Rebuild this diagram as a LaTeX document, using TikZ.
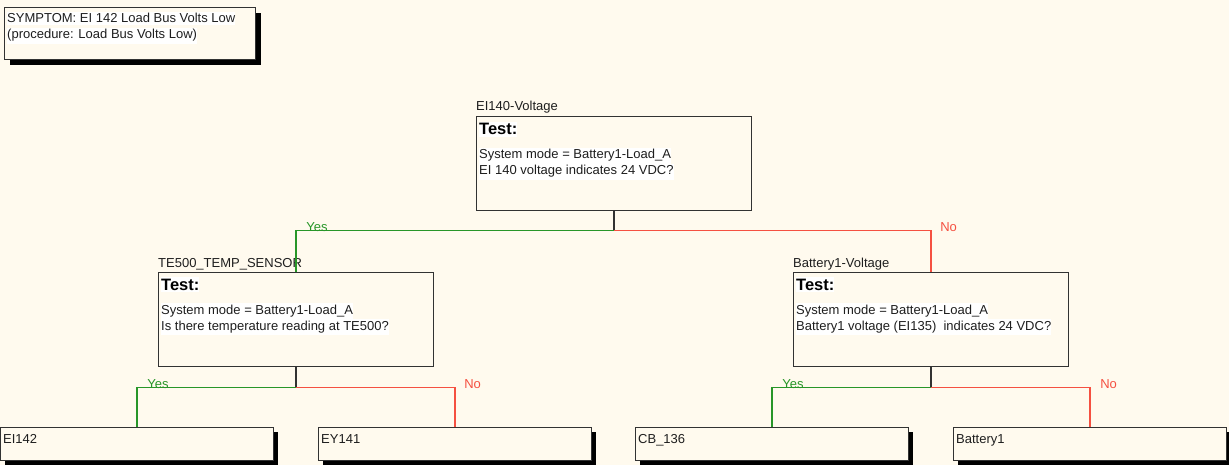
\documentclass[tikz,border=0pt]{standalone}
\usepackage{fontspec}
\setmainfont{Liberation Sans}
\usetikzlibrary{shadows,calc}
\definecolor{paper}{RGB}{255,250,238}
\definecolor{frame}{RGB}{50,50,50}
\definecolor{yesc}{RGB}{40,150,40}
\definecolor{noc}{RGB}{245,80,65}
\definecolor{ink}{RGB}{30,30,30}
\tikzset{
  testbox/.style={draw=frame, line width=1.2pt, fill=paper, anchor=north west,
    minimum width=275pt, minimum height=94pt, inner sep=0pt},
  leafbox/.style={draw=frame, line width=1.2pt, fill=paper, anchor=north west,
    minimum width=273pt, minimum height=33pt, inner sep=0pt,
    drop shadow={shadow xshift=4pt, shadow yshift=-4pt, fill=black, opacity=1}},
  notebox/.style={draw=frame, line width=1.2pt, fill=paper, anchor=north west,
    minimum width=251pt, minimum height=52pt, inner sep=0pt,
    drop shadow={shadow xshift=5pt, shadow yshift=-5pt, fill=black, opacity=1}},
  txt/.style={anchor=base west, inner sep=0pt, font=\fontsize{13}{15}\selectfont, text=ink},
  hl/.style={txt, fill=white, inner ysep=2pt},
  head/.style={anchor=base west, inner sep=0pt, fill=white, inner ysep=2pt,
    font=\fontsize{16.5}{18}\selectfont\bfseries, text=black},
  stem/.style={draw=frame, line width=1.3pt},
  yesline/.style={draw=yesc, line width=1.3pt},
  noline/.style={draw=noc, line width=1.3pt},
  yeslab/.style={txt, text=yesc},
  nolab/.style={txt, text=noc},
}
\begin{document}
\begin{tikzpicture}[x=1pt,y=-1pt]
\fill[paper] (0,0) rectangle (1229,465);
\useasboundingbox (0,0) rectangle (1229,465);

% symptom note
\node[notebox] (sym) at (4,7) {};
\node[hl] (s1) at ($(sym.north west)+(3,16)$) {SYMPTOM: EI 142 Load Bus Volts Low};
\node[hl] (s2) at ($(sym.north west)+(3,32)$) {(procedure: Load Bus Volts Low)};

% test boxes
\node[testbox] (q1) at (476,116) {};
\node[testbox] (q2) at (158,272) {};
\node[testbox] (q3) at (793,272) {};

\node[txt] (q1n) at ($(q1.north west)+(0,-5)$) {EI140-Voltage};
\node[head] (q1h) at ($(q1.north west)+(3,19)$) {Test:};
\node[hl] (q1a) at ($(q1.north west)+(3,43)$) {System mode = Battery1-Load\_A};
\node[hl] (q1b) at ($(q1.north west)+(3,59)$) {EI 140 voltage indicates 24 VDC?};

\node[txt] (q2n) at ($(q2.north west)+(0,-5)$) {TE500\_TEMP\_SENSOR};
\node[head] (q2h) at ($(q2.north west)+(3,18)$) {Test:};
\node[hl] (q2a) at ($(q2.north west)+(3,42)$) {System mode = Battery1-Load\_A};
\node[hl] (q2b) at ($(q2.north west)+(3,58)$) {Is there temperature reading at TE500?};

\node[txt] (q3n) at ($(q3.north west)+(0,-5)$) {Battery1-Voltage};
\node[head] (q3h) at ($(q3.north west)+(3,18)$) {Test:};
\node[hl] (q3a) at ($(q3.north west)+(3,42)$) {System mode = Battery1-Load\_A};
\node[hl] (q3b) at ($(q3.north west)+(3,58)$) {Battery1 voltage (EI135)\ \ indicates 24 VDC?};

% outcome boxes
\node[leafbox] (l1) at (0,427) {};
\node[leafbox] (l2) at (318,427) {};
\node[leafbox] (l3) at (635,427) {};
\node[leafbox] (l4) at (953,427) {};
\node[txt] (l1t) at ($(l1.north west)+(3,16)$) {EI142};
\node[txt] (l2t) at ($(l2.north west)+(3,16)$) {EY141};
\node[txt] (l3t) at ($(l3.north west)+(3,16)$) {CB\_136};
\node[txt] (l4t) at ($(l4.north west)+(3,16)$) {Battery1};

% branches
\draw[stem] (q1.south) -- ++(0,19) coordinate (j1);
\draw[yesline] (j1) -| (q2.north);
\draw[noline] (j1) -| (q3.north);
\node[yeslab] (y1) at ($(j1 -| q2.north)+(10,1)$) {Yes};
\node[nolab] (n1) at ($(j1 -| q3.north)+(9,1)$) {No};

\draw[stem] (q2.south) -- ++(0,20) coordinate (j2);
\draw[yesline] (j2) -| (l1.north);
\draw[noline] (j2) -| (l2.north);
\node[yeslab] (y2) at ($(j2 -| l1.north)+(10,1)$) {Yes};
\node[nolab] (n2) at ($(j2 -| l2.north)+(9,1)$) {No};

\draw[stem] (q3.south) -- ++(0,20) coordinate (j3);
\draw[yesline] (j3) -| (l3.north);
\draw[noline] (j3) -| (l4.north);
\node[yeslab] (y3) at ($(j3 -| l3.north)+(10,1)$) {Yes};
\node[nolab] (n3) at ($(j3 -| l4.north)+(10,1)$) {No};
\end{tikzpicture}
\end{document}
